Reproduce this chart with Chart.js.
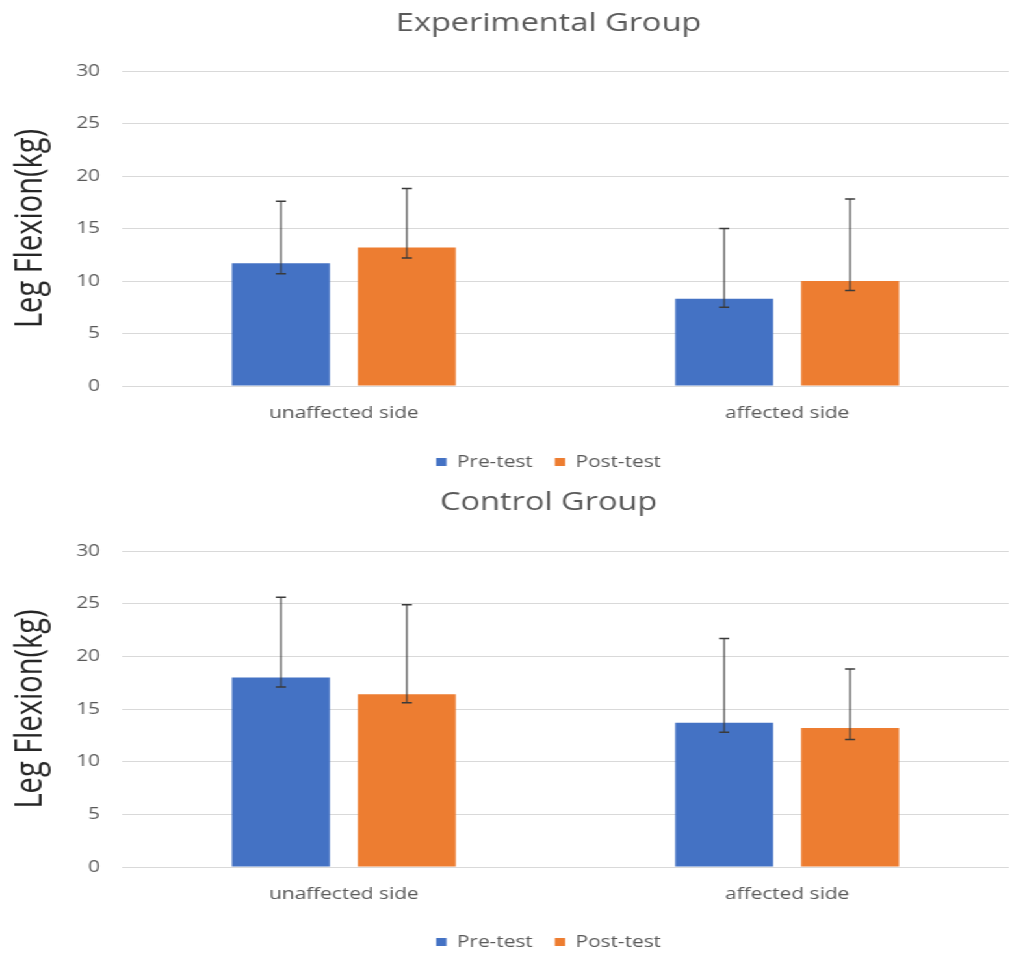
<!DOCTYPE html>
<html>
<head>
<meta charset="utf-8">
<script src="https://cdn.jsdelivr.net/npm/chart.js@4.4.1/dist/chart.umd.min.js"></script>
<style>
  html, body { margin: 0; padding: 0; background: #ffffff; overflow: hidden; width: 1009px; height: 955px; }
  /* the figure is drawn narrow and widened horizontally */
  #wrap { width: 844px; transform: scaleX(1.3); transform-origin: 0 0; }
  canvas { display: block; }
</style>
</head>
<body>
<div id="wrap">
  <canvas id="expChart" width="844" height="480"></canvas>
  <canvas id="ctlChart" width="844" height="480"></canvas>
</div>
<script>
// Categories and y ticks
const categories = ['unaffected side', 'affected side'];
const yMin = 0, yMax = 30, yStep = 5;

// Experimental group: means and error-bar ends (kg)
const expPre = [11.7, 8.3];
const expPreHigh = [17.6, 15.0];
const expPreLow = [10.7, 7.5];
const expPost = [13.2, 10.0];
const expPostHigh = [18.8, 17.8];
const expPostLow = [12.2, 9.1];

// Control group: means and error-bar ends (kg)
const ctlPre = [18.0, 13.7];
const ctlPreHigh = [25.6, 21.7];
const ctlPreLow = [17.1, 12.8];
const ctlPost = [16.4, 13.2];
const ctlPostHigh = [24.9, 18.8];
const ctlPostLow = [15.6, 12.1];

const BLUE = '#4472C4';
const ORANGE = '#ED7D31';

Chart.defaults.font.family = "'Open Sans', sans-serif";
Chart.defaults.animation = false;

// Draws vertical error bars with caps for each bar, using the y scale
const errorBars = {
  id: 'errorBars',
  afterDatasetsDraw(chart) {
    const ctx = chart.ctx;
    const y = chart.scales.y;
    ctx.save();
    ctx.strokeStyle = '#3a3a3a';
    chart.data.datasets.forEach((ds, i) => {
      const meta = chart.getDatasetMeta(i);
      meta.data.forEach((bar, j) => {
        const x = bar.x;
        const yHi = y.getPixelForValue(ds.errHigh[j]);
        const yLo = y.getPixelForValue(ds.errLow[j]);
        const cap = 3.9;
        ctx.lineWidth = 1.1;
        ctx.beginPath();
        ctx.moveTo(x, yHi);
        ctx.lineTo(x, yLo);
        ctx.stroke();
        ctx.lineWidth = 1.5;
        ctx.beginPath();
        ctx.moveTo(x - cap, yHi);
        ctx.lineTo(x + cap, yHi);
        ctx.moveTo(x - cap, yLo);
        ctx.lineTo(x + cap, yLo);
        ctx.stroke();
      });
    });
    ctx.restore();
  }
};

function makeChart(id, titleText, pre, preHigh, preLow, post, postHigh, postLow, lay) {
  return new Chart(document.getElementById(id), {
    type: 'bar',
    data: {
      labels: categories,
      datasets: [
        { label: 'Pre-test', data: pre, errHigh: preHigh, errLow: preLow,
          backgroundColor: BLUE, borderWidth: 0,
          barPercentage: 0.778, categoryPercentage: 0.568 },
        { label: 'Post-test', data: post, errHigh: postHigh, errLow: postLow,
          backgroundColor: ORANGE, borderWidth: 0,
          barPercentage: 0.778, categoryPercentage: 0.568 }
      ]
    },
    options: {
      responsive: false,
      maintainAspectRatio: false,
      layout: { padding: 0 },
      plugins: {
        title: {
          display: true,
          text: titleText,
          color: '#595959',
          font: { size: 25, weight: 'normal' },
          padding: { top: lay.titleTop, bottom: lay.titleBottom }
        },
        legend: {
          position: 'bottom',
          labels: {
            color: '#595959',
            font: { size: 16 },
            boxWidth: 8,
            boxHeight: 8,
            padding: 17
          }
        },
        tooltip: { enabled: false }
      },
      scales: {
        x: {
          grid: { display: false, drawTicks: false },
          border: { display: false },
          ticks: { color: '#595959', font: { size: 16 }, padding: 18 },
          afterFit(s) { s.height = lay.xHeight; }
        },
        y: {
          min: yMin, max: yMax,
          ticks: { stepSize: yStep, color: '#595959', font: { size: 16 }, padding: 17 },
          grid: { color: '#d9d9d9', lineWidth: 1, drawTicks: false },
          border: { display: false },
          title: {
            display: true,
            text: 'Leg Flexion(kg)',
            color: '#262626',
            font: { size: 29 },
            padding: { top: 6, bottom: 0 }
          },
          afterFit(s) { s.width = 94; }
        },
        yRight: {
          position: 'right',
          display: true,
          grid: { display: false },
          border: { display: false },
          ticks: { display: false },
          afterFit(s) { s.width = 68; }
        }
      }
    },
    plugins: [errorBars]
  });
}

makeChart('expChart', 'Experimental Group',
  expPre, expPreHigh, expPreLow, expPost, expPostHigh, expPostLow,
  { titleTop: 9, titleBottom: 32, xHeight: 51 });

makeChart('ctlChart', 'Control Group',
  ctlPre, ctlPreHigh, ctlPreLow, ctlPost, ctlPostHigh, ctlPostLow,
  { titleTop: 8, titleBottom: 33, xHeight: 50 });
</script>
</body>
</html>
